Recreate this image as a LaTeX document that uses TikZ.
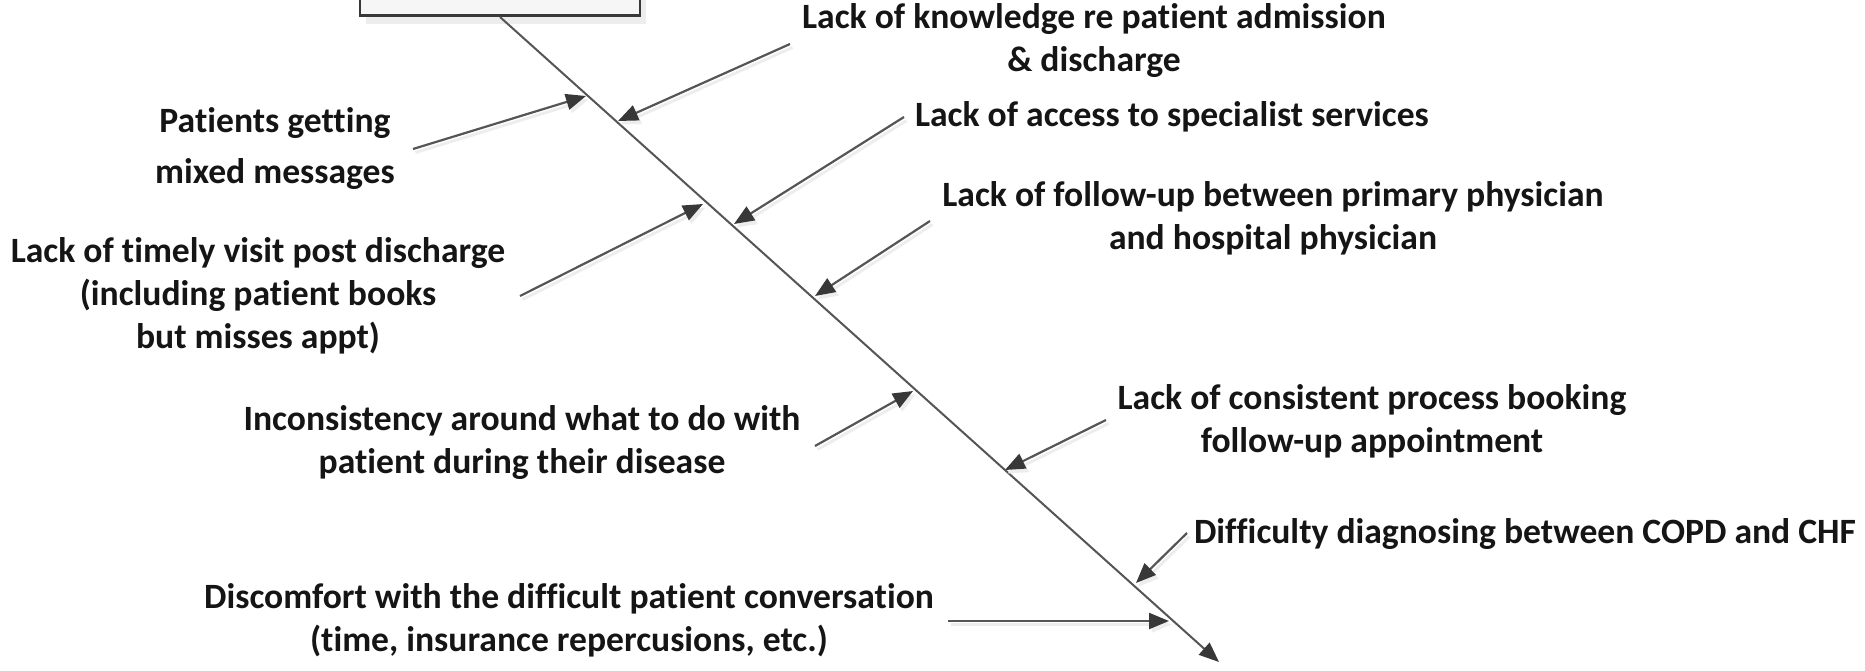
\documentclass[tikz,border=0pt]{standalone}
\usepackage{fontspec}
\setmainfont[Ligatures=CommonOff]{Carlito}
\usetikzlibrary{arrows.meta}
\definecolor{linegray}{HTML}{555555}
\definecolor{headgray}{HTML}{383838}
\definecolor{shadowgray}{HTML}{EDEDED}
\definecolor{txt}{HTML}{151515}
\definecolor{boxfill}{HTML}{F6F6F6}
\tikzset{
  lbl/.style={inner sep=0pt, align=center, text=txt, font=\bfseries\fontsize{17.8}{21.5}\selectfont},
  branch/.style={draw=linegray, line width=1.1pt,
    -{Triangle[length=10pt,width=8pt,fill=headgray,color=headgray]},
    preaction={draw=shadowgray, line width=1.4pt, transform canvas={shift={(2.5,3.5)}},
      -{Triangle[length=10pt,width=8pt,fill=shadowgray,color=shadowgray]}}},
  spine/.style={draw=linegray, line width=1pt,
    -{Triangle[length=10pt,width=8pt,fill=headgray,color=headgray]}},
  headbox/.style={draw=headgray, line width=1.3pt, fill=boxfill, minimum width=140pt, minimum height=30pt, inner sep=0pt}
}
\begin{document}
\begin{tikzpicture}[x=0.5pt,y=-0.5pt]
\clip (0,0) rectangle (1865,670);
\fill[white] (0,0) rectangle (1865,670);
% head box with shadow
\fill[shadowgray] (366,-40) rectangle (646,24);
\node[headbox, anchor=south] (box) at (500,17) {};
% labels
\node[lbl] (know) at (1094,41) {Lack of knowledge re patient admission\\ \& discharge};
\node[lbl] (patients) at (275,149) {Patients getting\\[4pt] mixed messages};
\node[lbl] (access) at (1172,117) {Lack of access to specialist services};
\node[lbl] (followup) at (1273,218) {Lack of follow-up between primary physician\\ and hospital physician};
\node[lbl] (timely) at (258,296) {Lack of timely visit post discharge\\ (including patient books\\ but misses appt)};
\node[lbl] (incons) at (522,443) {Inconsistency around what to do with\\ patient during their disease};
\node[lbl] (booking) at (1372,421) {Lack of consistent process booking\\ follow-up appointment};
\node[lbl] (diff) at (1525,534) {Difficulty diagnosing between COPD and CHF};
\node[lbl] (discomf) at (569,620) {Discomfort with the difficult patient conversation\\ (time, insurance repercusions, etc.)};
% spine
\coordinate (head) at (1219,662);
\draw[spine] (box.south) -- (head);
% branch endpoints
\coordinate (s1) at (790,44);  \coordinate (t1) at (618,121);
\coordinate (s2) at (413,149); \coordinate (t2) at (586,96);
\coordinate (s3) at (904,117); \coordinate (t3) at (734,224);
\coordinate (s4) at (520,296); \coordinate (t4) at (703,204);
\coordinate (s5) at (930,221); \coordinate (t5) at (815,296);
\coordinate (s6) at (815,446); \coordinate (t6) at (913,391);
\coordinate (s7) at (1106,420); \coordinate (t7) at (1005,470);
\coordinate (s8) at (1187,533); \coordinate (t8) at (1136,583);
\coordinate (s9) at (948,621); \coordinate (t9) at (1169,621);
\foreach \i in {1,...,9} { \draw[branch] (s\i) -- (t\i); }
\end{tikzpicture}
\end{document}
